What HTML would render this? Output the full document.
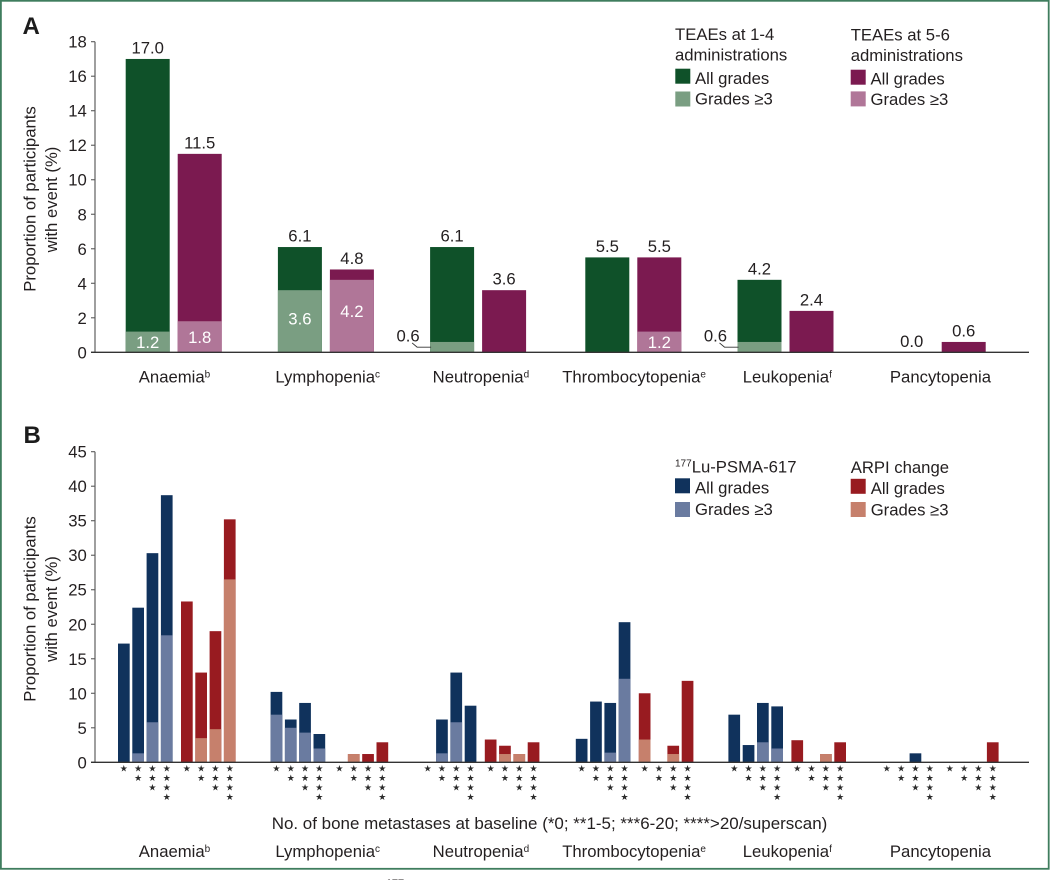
<!DOCTYPE html>
<html lang="en">
<head>
<meta charset="utf-8">
<title>TEAEs by cumulative administration and bone metastases</title>
<style>
html,body{margin:0;padding:0;background:#fff;width:1050px;height:880px;overflow:hidden}
svg{display:block}
text{font-family:"Liberation Sans",Arial,sans-serif;font-size:16.7px;fill:#231f20}
.stars{font-family:"DejaVu Sans",sans-serif;font-size:9px;fill:#2b2b2b}
.sup{font-size:10px}
.panel{font-weight:bold;font-size:24px;fill:#1c1c1c}
.inner{fill:#fff}
</style>
</head>
<body>
<svg id="figure" xmlns="http://www.w3.org/2000/svg" width="1050" height="880" viewBox="0 0 1050 880">
  <rect x="0.9" y="0.8" width="1047.8" height="868" fill="#fff" stroke="#3f7d5e" stroke-width="1.8"/>
  <text class="panel" x="22.5" y="34">A</text>
  <text class="panel" x="23.5" y="443">B</text>

  <g>
    <text transform="translate(35.6,199) rotate(-90)" text-anchor="middle">Proportion of participants</text>
    <text transform="translate(57.2,199.5) rotate(-90)" text-anchor="middle">with event (%)</text>
  </g>
  <g>
    <text transform="translate(35.6,609) rotate(-90)" text-anchor="middle">Proportion of participants</text>
    <text transform="translate(57.2,609) rotate(-90)" text-anchor="middle">with event (%)</text>
  </g>

  <g id="chart-a"></g>
  <g id="chart-b"></g>

  <g>
    <text x="675" y="40">TEAEs at 1-4</text>
    <text x="675" y="60.5">administrations</text>
    <rect x="675.3" y="68.7" width="15" height="15" fill="#0f5129"/>
    <text x="695" y="84">All grades</text>
    <rect x="675.3" y="91.5" width="15" height="15" fill="#7a9e82"/>
    <text x="695" y="104.5">Grades ≥3</text>
    <text x="850.7" y="40.7">TEAEs at 5-6</text>
    <text x="850.7" y="61">administrations</text>
    <rect x="850.7" y="69.7" width="15" height="15" fill="#7b1a50"/>
    <text x="870.5" y="84.7">All grades</text>
    <rect x="850.7" y="91.4" width="15" height="15" fill="#b07698"/>
    <text x="870.5" y="105">Grades ≥3</text>
  </g>

  <g>
    <text x="675" y="472.7"><tspan class="sup" dy="-6">177</tspan><tspan dy="6">Lu-PSMA-617</tspan></text>
    <rect x="675" y="478.3" width="15" height="15" fill="#10325c"/>
    <text x="695" y="493.5">All grades</text>
    <rect x="675" y="502" width="15" height="15" fill="#6a7ba0"/>
    <text x="695" y="515">Grades ≥3</text>
    <text x="850.7" y="473">ARPI change</text>
    <rect x="850.7" y="478.8" width="15" height="15" fill="#981b20"/>
    <text x="870.7" y="494">All grades</text>
    <rect x="850.7" y="502" width="15" height="15" fill="#c6806c"/>
    <text x="870.7" y="515.5">Grades ≥3</text>
  </g>

  <text x="549.5" y="829" text-anchor="middle" style="font-size:16.97px">No. of bone metastases at baseline (*0; **1-5; ***6-20; ****&gt;20/superscan)</text>
  <text x="395" y="887" text-anchor="middle" style="font-size:11px;font-weight:bold">177</text>
</svg>

<script>
var categories = ['Anaemia', 'Lymphopenia', 'Neutropenia', 'Thrombocytopenia', 'Leukopenia', 'Pancytopenia'];
var categorySups = ['b', 'c', 'd', 'e', 'f', ''];

var ticksA = [0, 2, 4, 6, 8, 10, 12, 14, 16, 18];
var allGrades14 = [17.0, 6.1, 6.1, 5.5, 4.2, 0.0];
var grade3Plus14 = [1.2, 3.6, 0.6, 0.0, 0.6, 0.0];
var allGrades56 = [11.5, 4.8, 3.6, 5.5, 2.4, 0.6];
var grade3Plus56 = [1.8, 4.2, 0.0, 1.2, 0.0, 0.0];

var ticksB = [0, 5, 10, 15, 20, 25, 30, 35, 40, 45];
var luAll = [
  [17.2, 22.4, 30.3, 38.7],
  [10.2, 6.2, 8.6, 4.1],
  [0, 6.2, 13.0, 8.2],
  [3.4, 8.8, 8.6, 20.3],
  [6.9, 2.5, 8.6, 8.1],
  [0, 0, 1.3, 0]
];
var luG3 = [
  [0, 1.3, 5.8, 18.4],
  [6.9, 5.0, 4.3, 2.0],
  [0, 1.3, 5.8, 0],
  [0, 0, 1.4, 12.1],
  [0, 0, 2.9, 2.0],
  [0, 0, 0, 0]
];
var arpiAll = [
  [23.3, 13.0, 19.0, 35.2],
  [0, 1.2, 1.2, 2.9],
  [3.3, 2.4, 1.2, 2.9],
  [10.0, 0, 2.4, 11.8],
  [3.2, 0, 1.2, 2.9],
  [0, 0, 0, 2.9]
];
var arpiG3 = [
  [0, 3.5, 4.8, 26.5],
  [0, 1.2, 0, 0],
  [0, 1.2, 1.2, 0],
  [3.3, 0, 1.2, 0],
  [0, 0, 1.2, 0],
  [0, 0, 0, 0]
];

var SVG_NS = 'http://www.w3.org/2000/svg';
function make(parent, tag, attrs, txt) {
  var el = document.createElementNS(SVG_NS, tag);
  for (var k in attrs) el.setAttribute(k, attrs[k]);
  if (txt !== undefined) el.textContent = txt;
  parent.appendChild(el);
  return el;
}

/* Axis functions */
var yA = function (v) { return 352.3 - v * (352.3 - 41.7) / 18; };
var yB = function (v) { return 762.3 - v * (762.3 - 451.7) / 45; };
var groupA = function (i) { return 125.7 + 152.2 * i + (i >= 3 ? 3 : 0); };
var groupB = function (i) { return 118 + 152.6 * i + (i === 2 ? -1.4 : 0); };
var labelX = function (i) { return 174.5 + 153.2 * i; };
var BAR_A = 44, OFFSET_A = 52, BAR_B = 11.7, STEP_B = 14.3, OFFSET_B = 63;

function drawAxes(g, y, ticks, prefix) {
  var axisY = make(g, 'line', {x1: 95, x2: 95, y1: y(ticks[ticks.length - 1]), y2: y(0), stroke: '#6b6b6b', 'stroke-width': 1.3});
  
  
  ticks.forEach(function (t) {
    var tick = make(g, 'line', {x1: 91, x2: 95, y1: y(t), y2: y(t), stroke: '#5a5a5a', 'stroke-width': 1.1});
    
    
    var lab = make(g, 'text', {x: 86.8, y: y(t) + 6, 'text-anchor': 'end'}, String(t));
    
    
  });
}

function drawXAxis(g, y, prefix, labelY) {
  var axisX = make(g, 'line', {x1: 91, x2: 1029, y1: y(0), y2: y(0), stroke: '#333', 'stroke-width': 1.4});
  
  
  categories.forEach(function (c, i) {
    var t = make(g, 'text', {x: labelX(i), y: labelY, 'text-anchor': 'middle'});
    
    
    make(t, 'tspan', {}, c);
    if (categorySups[i]) make(t, 'tspan', {'class': 'sup', dy: -5}, categorySups[i]);
  });
}

function bar(g, x, w, y, all, g3, dark, light, name) {
  if (all > 0) {
    var top = make(g, 'rect', {x: x, y: y(all), width: w, height: y(0) - y(all), fill: dark});
    
    
  }
  if (g3 > 0) {
    var low = make(g, 'rect', {x: x, y: y(g3), width: w, height: y(0) - y(g3), fill: light});
    
    
  }
}

/* Panel A */
var chartA = document.getElementById('chart-a');
drawAxes(chartA, yA, ticksA, 'panel-a');

function innerCenter(v) { return v * 0.5 + (v > 3 ? (v - 3) * 0.25 : 0); }

function valueLabels(g, cx, all, g3, name, i) {
  var top = make(g, 'text', {x: cx, y: yA(all) - 5.5, 'text-anchor': 'middle'}, all.toFixed(1));
  
  
  if (g3 >= 1) {
    var inner = make(g, 'text', {'class': 'inner', x: cx, y: yA(innerCenter(g3)) + 6, 'text-anchor': 'middle'}, g3.toFixed(1));
    
    
  } else if (g3 > 0) {
    var side = make(g, 'text', {x: cx - 44, y: yA(g3) - 0.3, 'text-anchor': 'middle'}, g3.toFixed(1));
    
    
    var x0 = cx - 22;
    var leader = make(g, 'path', {d: 'M' + (x0 - 18) + ' ' + (yA(g3) + 1) + 'L' + (x0 - 13) + ' ' + (yA(g3) + 5.2) + 'L' + (x0 + 1) + ' ' + (yA(g3) + 5.2), fill: 'none', stroke: '#333', 'stroke-width': 0.9});
    
    
  }
}

categories.forEach(function (c, i) {
  var x1 = groupA(i), x2 = x1 + OFFSET_A;
  var n = c.toLowerCase();
  bar(chartA, x1, BAR_A, yA, allGrades14[i], grade3Plus14[i], '#0f5129', '#7a9e82', 'bar-a-' + n + '-1-4');
  bar(chartA, x2, BAR_A, yA, allGrades56[i], grade3Plus56[i], '#7b1a50', '#b07698', 'bar-a-' + n + '-5-6');
  valueLabels(chartA, x1 + BAR_A / 2, allGrades14[i], grade3Plus14[i], 'bar-a-' + n + '-1-4', i);
  valueLabels(chartA, x2 + BAR_A / 2, allGrades56[i], grade3Plus56[i], 'bar-a-' + n + '-5-6', i);
});
drawXAxis(chartA, yA, 'panel-a', 382.7);

/* Panel B */
var chartB = document.getElementById('chart-b');
drawAxes(chartB, yB, ticksB, 'panel-b');
var starRows = [768.3, 777.7, 787.1, 796.6];

function drawStars(g, cx, count, name) {
  for (var s = 0; s < count; s++) {
    var st = make(g, 'text', {'class': 'stars', x: cx, y: starRows[s] + 3.3, 'text-anchor': 'middle'}, '★');
    
    
  }
}

categories.forEach(function (c, i) {
  var n = c.toLowerCase();
  for (var j = 0; j < 4; j++) {
    var xl = groupB(i) + j * STEP_B;
    var xr = groupB(i) + OFFSET_B + j * STEP_B;
    bar(chartB, xl, BAR_B, yB, luAll[i][j], luG3[i][j], '#10325c', '#6a7ba0', 'bar-b-' + n + '-lu-' + (j + 1));
    bar(chartB, xr, BAR_B, yB, arpiAll[i][j], arpiG3[i][j], '#981b20', '#c6806c', 'bar-b-' + n + '-arpi-' + (j + 1));
    drawStars(chartB, xl + BAR_B / 2, j + 1, 'bar-b-' + n + '-lu-' + (j + 1));
    drawStars(chartB, xr + BAR_B / 2, j + 1, 'bar-b-' + n + '-arpi-' + (j + 1));
  }
});
drawXAxis(chartB, yB, 'panel-b', 857);
</script>
</body>
</html>
